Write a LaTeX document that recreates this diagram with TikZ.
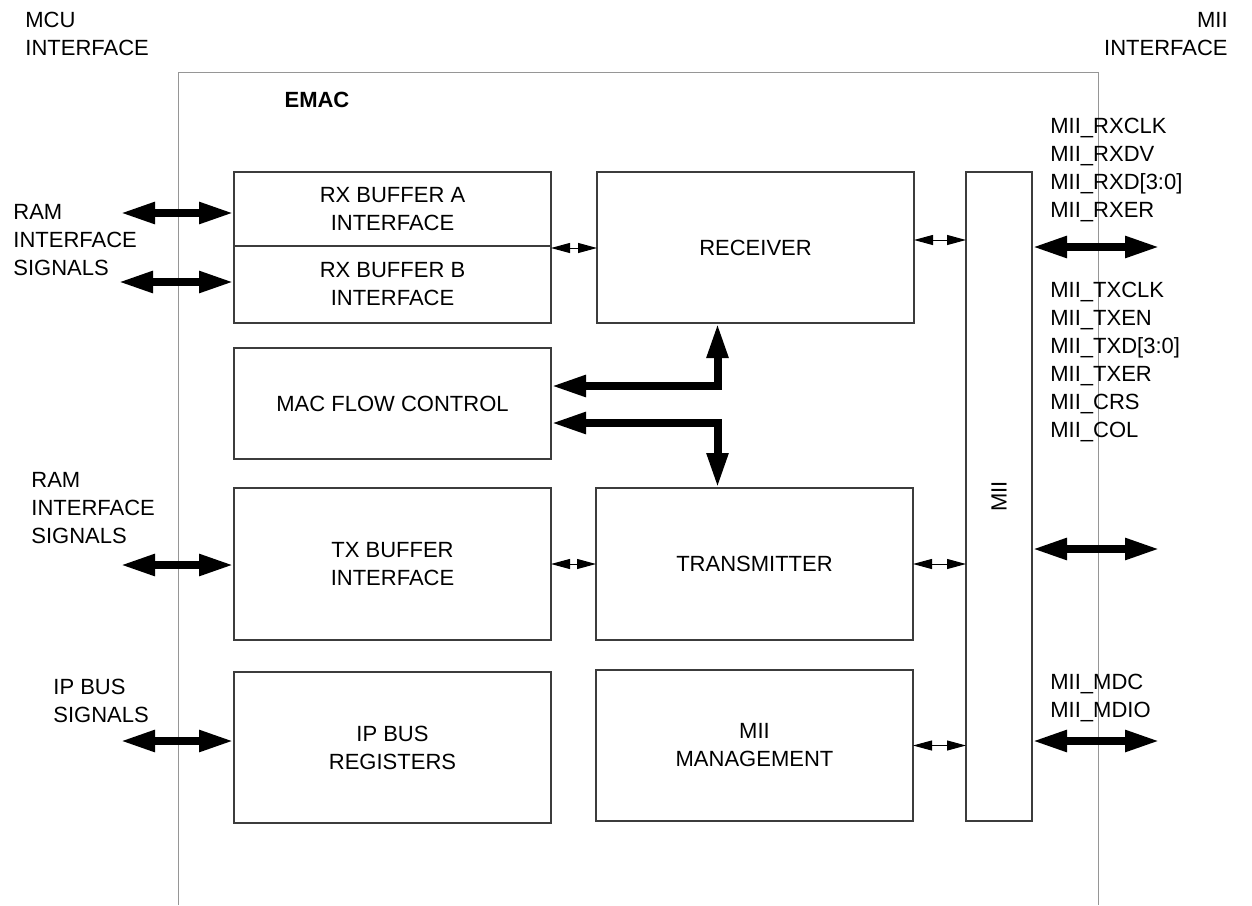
\documentclass[tikz,border=0pt]{standalone}
\usepackage{fontspec}
\setmainfont{Liberation Sans}
\usepackage{xcolor}
\usepackage{tikz}
\usetikzlibrary{arrows.meta,positioning}
\definecolor{framegray}{RGB}{150,150,150}
\definecolor{boxgray}{RGB}{60,60,60}

\begin{document}
\begin{tikzpicture}[
  x=0.5pt,y=-0.5pt,
  font=\fontsize{11}{14}\selectfont,
  block/.style={draw=boxgray,line width=0.65pt,align=center,inner sep=0pt,outer sep=0pt,minimum width=158.5pt,minimum height=75.5pt},
  bus/.style={{Triangle[length=17.5pt,width=10pt]}-{Triangle[length=17.5pt,width=10pt]},line width=4pt,line join=miter},
  link/.style={{Triangle[length=9.5pt,width=5pt]}-{Triangle[length=9.5pt,width=5pt]},line width=0.5pt},
  sig/.style={align=left,anchor=west,inner sep=0pt}
]
\useasboundingbox (0,0) rectangle (1252,905);
\draw[framegray,line width=0.5pt] (178,905) |- (1098,72) -- (1098,905);
\node[font=\fontsize{11}{14}\selectfont\bfseries] (emac) at (317,100) {EMAC};

% left column
\node[block,minimum height=37pt] (rxa) at (392.5,209) {RX BUFFER A\\INTERFACE};
\node[block,minimum height=38.5pt,below=0pt of rxa] (rxb) {RX BUFFER B\\INTERFACE};
\node[block,minimum height=55.5pt,below=12.5pt of rxb] (flow) {MAC FLOW CONTROL};
\node[block,minimum height=76pt,below=14.5pt of flow] (txbuf) {TX BUFFER\\INTERFACE};
\node[block,below=16pt of txbuf] (ipbus) {IP BUS\\REGISTERS};

% right column
\node[block,minimum height=75.5pt,right=23pt of rxa.north east,anchor=north west] (receiver) {RECEIVER};
\node[block,minimum height=76pt,right=22.5pt of txbuf] (transmitter) {TRANSMITTER};
\node[block,right=22.5pt of ipbus,yshift=1pt] (mgmt) {MII\\MANAGEMENT};
\node[block,minimum width=33pt,minimum height=324.5pt,right=26pt of receiver.north east,anchor=north west] (mii) {};
\node[rotate=90] at (mii.center) {MII};

% outside labels
\node[sig] (mcu) at (25,34) {MCU\\INTERFACE};
\node[sig,align=right,anchor=east] (miiif) at (1228,34) {MII\\INTERFACE};
\node[sig] (ram1) at (13,240) {RAM\\INTERFACE\\SIGNALS};
\node[sig] (ram2) at (31,508) {RAM\\INTERFACE\\SIGNALS};
\node[sig] (ipsig) at (53,701) {IP BUS\\SIGNALS};
\node[sig] (rxsig) at (1050,170) {MII\_RXCLK\\MII\_RXDV\\MII\_RXD[3:0]\\MII\_RXER};
\node[sig] (txsig) at (1050,362) {MII\_TXCLK\\MII\_TXEN\\MII\_TXD[3:0]\\MII\_TXER\\MII\_CRS\\MII\_COL};
\node[sig] (mdsig) at (1050,698) {MII\_MDC\\MII\_MDIO};

% bus ends
\coordinate (ramA) at (120,213);
\coordinate (ramB) at (118,282);
\coordinate (ramT) at (120,565);
\coordinate (ipb) at (120,741);
\coordinate (rxo) at (1160,247);
\coordinate (txo) at (1160,549);
\coordinate (mdo) at (1160,741);

\draw[bus] (ramA) -- (ramA -| rxa.west);
\draw[bus] (ramB) -- (ramB -| rxb.west);
\draw[bus] (ramT) -- (ramT -| txbuf.west);
\draw[bus] (ipb) -- (ipb -| ipbus.west);
\draw[bus] (rxo -| mii.east) -- (rxo);
\draw[bus] (txo -| mii.east) -- (txo);
\draw[bus] (mdo -| mii.east) -- (mdo);
\draw[bus] ([yshift=8.75pt]flow.east) -| ([xshift=-19pt]receiver.south);
\draw[bus] ([yshift=-9.75pt]flow.east) -| ([xshift=-18.5pt]transmitter.north);

\draw[link] ([yshift=-1pt]rxb.north east) -- ([yshift=-1pt]rxb.north east -| receiver.west);
\draw[link] (txbuf.east) -- (transmitter.west);
\draw[link] ([yshift=3.75pt]receiver.east) -- ([yshift=3.75pt]receiver.east -| mii.west);
\draw[link] (transmitter.east) -- (transmitter.east -| mii.west);
\draw[link] (mgmt.east) -- (mgmt.east -| mii.west);
\end{tikzpicture}
\end{document}
